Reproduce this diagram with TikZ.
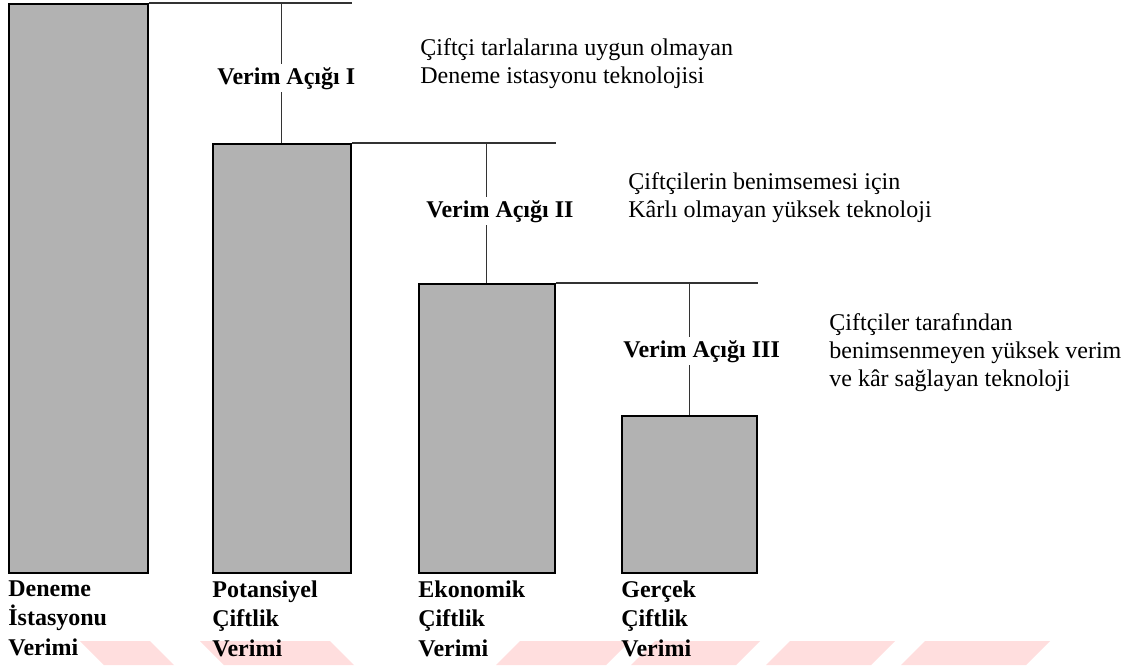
\documentclass[tikz,border=0pt]{standalone}
\usepackage{fontspec}
\setmainfont{Liberation Serif}
\newdimen\upx \upx=0.5pt
\tikzset{
  bar/.style={draw=black, line width=0.9pt, fill=black!30, inner sep=0pt, anchor=north west},
  gapline/.style={draw=black!80, line width=0.55pt},
  gaplabel/.style={font=\bfseries\fontsize{12}{14}\selectfont, fill=white, inner sep=1.5pt, anchor=base west},
  note/.style={font=\fontsize{12}{14}\selectfont, align=left, inner sep=0pt, anchor=north west},
  barlabel/.style={font=\bfseries\fontsize{12}{14.75}\selectfont, align=left, inner sep=0pt, anchor=north west},
  wm/.style={fill=red!13, draw=none}
}
\begin{document}
\begin{tikzpicture}[x=0.5pt, y=-0.5pt]
\useasboundingbox (0,0) rectangle (1124,665);
\fill[white] (0,0) rectangle (1124,665);
% watermark
\fill[wm] (80,641) -- (150,641) -- (174,665) -- (104,665) -- cycle;
\fill[wm] (200,641) -- (330,641) -- (354,665) -- (224,665) -- cycle;
\fill[wm] (520,641) -- (630,641) -- (606,665) -- (496,665) -- cycle;
\fill[wm] (655,641) -- (760,641) -- (736,665) -- (631,665) -- cycle;
\fill[wm] (790,641) -- (895,641) -- (871,665) -- (766,665) -- cycle;
\fill[wm] (925,641) -- (1050,641) -- (1026,665) -- (901,665) -- cycle;
% bars
\node[bar, minimum width=139\upx, minimum height=569\upx] (b1) at (8,3) {};
\node[bar, minimum width=138\upx, minimum height=429\upx] (b2) at (212,143) {};
\node[bar, minimum width=136\upx, minimum height=289\upx] (b3) at (418,283) {};
\node[bar, minimum width=135\upx, minimum height=157\upx] (b4) at (621,415) {};
% gap lines
\draw[gapline] (b1.north east) -- (b1.north east -| b2.north east);
\draw[gapline] (b2.north |- b1.north) -- (b2.north);
\draw[gapline] (b2.north east) -- (b2.north east -| b3.north east);
\draw[gapline] (b3.north |- b2.north) -- (b3.north);
\draw[gapline] (b3.north east) -- (b3.north east -| b4.north east);
\draw[gapline] (b4.north |- b3.north) -- (b4.north);
% gap labels
\node[gaplabel] (g1) at (214,84) {Verim Açığı I};
\node[gaplabel] (g2) at (423,217) {Verim Açığı II};
\node[gaplabel] (g3) at (620,357) {Verim Açığı III};
% notes
\node[note] (n1) at (420,38.6) {Çiftçi tarlalarına uygun olmayan\\Deneme istasyonu teknolojisi};
\node[note] (n2) at (628,172.6) {Çiftçilerin benimsemesi için\\Kârlı olmayan yüksek teknoloji};
\node[note] (n3) at (829,313.6) {Çiftçiler tarafından\\benimsenmeyen yüksek verim\\ve kâr sağlayan teknoloji};
% bar labels
\node[barlabel] (l1) at (8,580) {Deneme\\İstasyonu\\Verimi};
\node[barlabel] (l2) at (212,580) {Potansiyel\\Çiftlik\\Verimi};
\node[barlabel] (l3) at (418,580) {Ekonomik\\Çiftlik\\Verimi};
\node[barlabel] (l4) at (621,580) {Gerçek\\Çiftlik\\Verimi};
\end{tikzpicture}
\end{document}
